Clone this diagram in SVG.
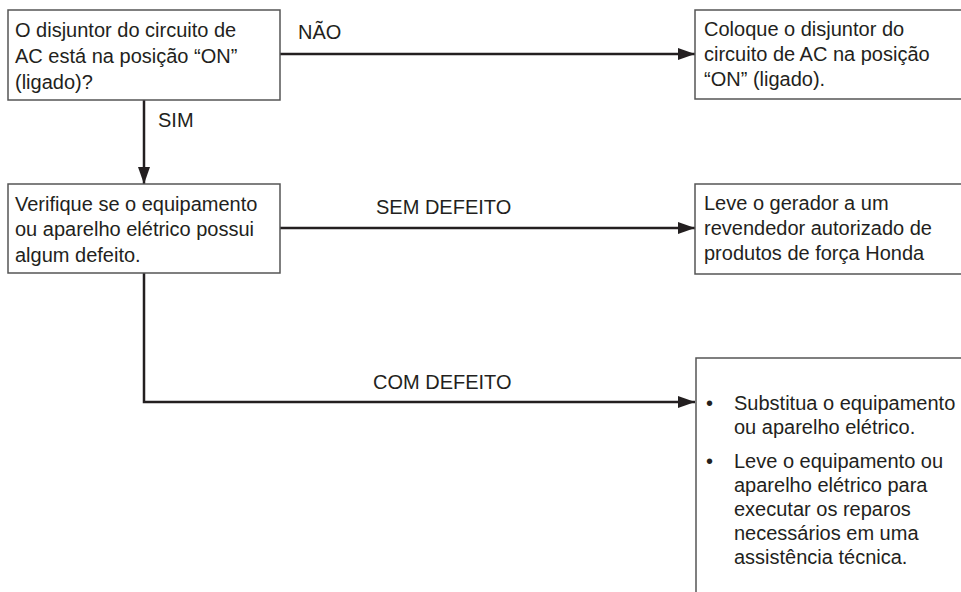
<svg xmlns="http://www.w3.org/2000/svg" width="961" height="592" viewBox="0 0 961 592">
<style>
.box{fill:#fff;stroke:#555;stroke-width:1.5}
.t{font-family:"Liberation Sans",Arial,sans-serif;font-size:20px;fill:#231f20}
.c{fill:none;stroke:#231f20;stroke-width:2.5}
</style>
<defs>
<marker id="ah" markerWidth="17" markerHeight="12" refX="17" refY="6" orient="auto" markerUnits="userSpaceOnUse">
<path d="M0,0 L17,6 L0,12 Z" fill="#231f20"/>
</marker>
</defs>
<rect width="961" height="592" fill="#fff"/>
<g id="connectors">
<path class="c" d="M280,54 H695" marker-end="url(#ah)"/>
<path class="c" d="M144,100 V184" marker-end="url(#ah)"/>
<path class="c" d="M280,228 H695" marker-end="url(#ah)"/>
<path class="c" d="M144,273 V402 H695" marker-end="url(#ah)"/>
<text class="t" x="298" y="39">NÃO</text>
<text class="t" x="158" y="127">SIM</text>
<text class="t" x="376" y="214">SEM DEFEITO</text>
<text class="t" x="373" y="389">COM DEFEITO</text>
</g>
<g id="q1">
<rect class="box" x="8" y="10" width="272" height="90"/>
<text class="t" x="15" y="37">O disjuntor do circuito de</text>
<text class="t" x="15" y="63">AC está na posição “ON”</text>
<text class="t" x="15" y="89">(ligado)?</text>
</g>
<g id="a1">
<rect class="box" x="695" y="10" width="300" height="89"/>
<text class="t" x="704" y="36">Coloque o disjuntor do</text>
<text class="t" x="704" y="61">circuito de AC na posição</text>
<text class="t" x="704" y="86">“ON” (ligado).</text>
</g>
<g id="q2">
<rect class="box" x="8" y="184" width="272" height="89"/>
<text class="t" x="15" y="211">Verifique se o equipamento</text>
<text class="t" x="15" y="236">ou aparelho elétrico possui</text>
<text class="t" x="15" y="262">algum defeito.</text>
</g>
<g id="a2">
<rect class="box" x="695" y="184" width="300" height="90"/>
<text class="t" x="704" y="210">Leve o gerador a um</text>
<text class="t" x="704" y="235">revendedor autorizado de</text>
<text class="t" x="704" y="260">produtos de força Honda</text>
</g>
<g id="a3">
<rect class="box" x="696" y="358" width="300" height="300"/>
<text class="t" x="706" y="410">•</text>
<text class="t" x="734" y="410">Substitua o equipamento</text>
<text class="t" x="734" y="434">ou aparelho elétrico.</text>
<text class="t" x="706" y="468">•</text>
<text class="t" x="734" y="468">Leve o equipamento ou</text>
<text class="t" x="734" y="492">aparelho elétrico para</text>
<text class="t" x="734" y="516">executar os reparos</text>
<text class="t" x="734" y="540">necessários em uma</text>
<text class="t" x="734" y="564">assistência técnica.</text>
</g>
</svg>
